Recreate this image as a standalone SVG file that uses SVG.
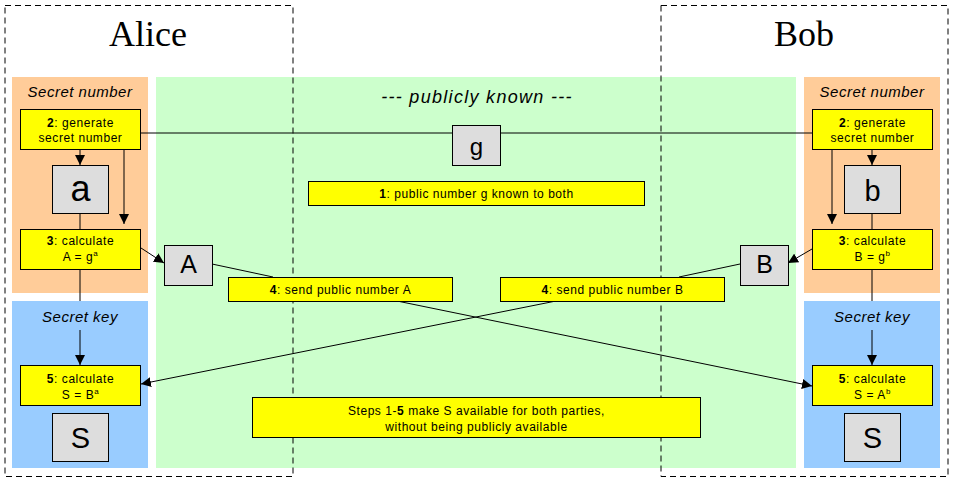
<svg xmlns="http://www.w3.org/2000/svg" width="954" height="483" viewBox="0 0 954 483">
<style>
.bg{stroke:none}
.title{font-family:"Liberation Serif",serif;font-size:36px;fill:#000;text-anchor:middle}
.lbl{font-family:"Liberation Sans",Arial,sans-serif;font-size:15px;font-style:italic;fill:#000;text-anchor:middle;letter-spacing:0.5px}
.step{fill:#FFFF00;stroke:#000;stroke-width:1}
.val{fill:#DDDDDD;stroke:#000;stroke-width:1}
.t{font-family:"Liberation Sans",Arial,sans-serif;font-size:12px;fill:#000;text-anchor:middle;letter-spacing:0.55px}
.big{font-family:"Liberation Sans",Arial,sans-serif;font-size:28px;fill:#000;text-anchor:middle}
.dash{fill:none;stroke:#000;stroke-width:1;stroke-dasharray:6,4}
.ln{fill:none;stroke:#000;stroke-width:1}
.ar{fill:none;stroke:#000;stroke-width:1;marker-end:url(#ah)}
</style>
<defs>
<marker id="ah" viewBox="0 0 10 10" refX="10" refY="5" markerWidth="10" markerHeight="10" markerUnits="userSpaceOnUse" orient="auto">
<path d="M0,0 L10,5 L0,10 Z" fill="#000"/>
</marker>
</defs>
<rect width="954" height="483" fill="#fff"/>
<g id="regions">
<rect class="bg" x="12" y="77" width="136" height="216" fill="#FFCC99"/>
<rect class="bg" x="12" y="301" width="136" height="167" fill="#99CCFF"/>
<rect class="bg" x="156" y="77" width="640" height="391" fill="#CCFFCC"/>
<rect class="bg" x="804" y="77" width="136" height="216" fill="#FFCC99"/>
<rect class="bg" x="804" y="301" width="136" height="167" fill="#99CCFF"/>
</g>
<g id="labels">
<text class="title" x="148" y="46">Alice</text>
<text class="title" x="804" y="46">Bob</text>
<text class="lbl" x="80" y="97">Secret number</text>
<text class="lbl" x="872" y="97">Secret number</text>
<text class="lbl" x="80" y="322">Secret key</text>
<text class="lbl" x="872" y="322">Secret key</text>
<text class="lbl" x="477" y="103" style="font-size:18px;letter-spacing:1.3px">--- publicly known ---</text>
</g>
<g id="connectors">
<line class="ln" x1="141" y1="133" x2="812" y2="133"/>
<line class="ar" x1="80" y1="149" x2="80" y2="165"/>
<line class="ar" x1="124" y1="149" x2="124" y2="224"/>
<line class="ln" x1="80" y1="213" x2="80" y2="229"/>
<line class="ln" x1="80" y1="269" x2="80" y2="301"/>
<line class="ar" x1="80" y1="330" x2="80" y2="365"/>
<line class="ar" x1="141" y1="248" x2="164" y2="263"/>
<line class="ln" x1="212" y1="264" x2="273" y2="277"/>
<line class="ar" x1="872" y1="149" x2="872" y2="165"/>
<line class="ar" x1="832" y1="149" x2="832" y2="224"/>
<line class="ln" x1="872" y1="213" x2="872" y2="229"/>
<line class="ln" x1="872" y1="269" x2="872" y2="301"/>
<line class="ar" x1="872" y1="330" x2="872" y2="365"/>
<line class="ar" x1="812" y1="249" x2="788" y2="263"/>
<line class="ln" x1="740" y1="264" x2="679" y2="277"/>
<line class="ar" x1="397" y1="301" x2="812" y2="386"/>
<line class="ar" x1="556" y1="301" x2="141" y2="384"/>
</g>
<g id="borders">
<rect class="dash" x="5" y="5.5" width="288" height="471"/>
<rect class="dash" x="661" y="5.5" width="287" height="471"/>
</g>
<g id="g">
<rect class="val" x="452.5" y="125.5" width="48" height="40"/>
<text class="big" x="476.5" y="155" style="font-size:24px">g</text>
</g>
<g id="step1">
<rect class="step" x="308.5" y="181.5" width="336" height="24"/>
<text class="t" x="476.5" y="198"><tspan font-weight="bold">1</tspan>: public number g known to both</text>
</g>
<g id="alice-step2">
<rect class="step" x="20.5" y="109.5" width="120" height="40"/>
<text class="t" x="80.5" y="127"><tspan font-weight="bold">2</tspan>: generate</text>
<text class="t" x="80.5" y="142">secret number</text>
</g>
<g id="alice-a">
<rect class="val" x="52.5" y="165.5" width="56" height="48"/>
<text class="big" x="80.5" y="201" style="font-size:36px">a</text>
</g>
<g id="alice-step3">
<rect class="step" x="20.5" y="229.5" width="120" height="40"/>
<text class="t" x="80.5" y="245"><tspan font-weight="bold">3</tspan>: calculate</text>
<text class="t" x="80.5" y="261">A = g<tspan font-size="8" dy="-5">a</tspan></text>
</g>
<g id="alice-A">
<rect class="val" x="164.5" y="245.5" width="48" height="40"/>
<text class="big" x="188.5" y="273" style="font-size:25px">A</text>
</g>
<g id="alice-step4">
<rect class="step" x="228.5" y="277.5" width="224" height="24"/>
<text class="t" x="340.5" y="294"><tspan font-weight="bold">4</tspan>: send public number A</text>
</g>
<g id="alice-step5">
<rect class="step" x="20.5" y="365.5" width="120" height="40"/>
<text class="t" x="80.5" y="383"><tspan font-weight="bold">5</tspan>: calculate</text>
<text class="t" x="80.5" y="399">S = B<tspan font-size="8" dy="-5">a</tspan></text>
</g>
<g id="alice-S">
<rect class="val" x="52.5" y="413.5" width="56" height="48"/>
<text class="big" x="80.5" y="448" style="font-size:29px">S</text>
</g>
<g id="bob-step2">
<rect class="step" x="812.5" y="109.5" width="120" height="40"/>
<text class="t" x="872.5" y="127"><tspan font-weight="bold">2</tspan>: generate</text>
<text class="t" x="872.5" y="142">secret number</text>
</g>
<g id="bob-b">
<rect class="val" x="844.5" y="165.5" width="56" height="48"/>
<text class="big" x="872.5" y="201" style="font-size:29px">b</text>
</g>
<g id="bob-step3">
<rect class="step" x="812.5" y="229.5" width="120" height="40"/>
<text class="t" x="872.5" y="245"><tspan font-weight="bold">3</tspan>: calculate</text>
<text class="t" x="872.5" y="261">B = g<tspan font-size="8" dy="-5">b</tspan></text>
</g>
<g id="bob-B">
<rect class="val" x="740.5" y="245.5" width="48" height="40"/>
<text class="big" x="764.5" y="273" style="font-size:25px">B</text>
</g>
<g id="bob-step4">
<rect class="step" x="500.5" y="277.5" width="224" height="24"/>
<text class="t" x="612.5" y="294"><tspan font-weight="bold">4</tspan>: send public number B</text>
</g>
<g id="bob-step5">
<rect class="step" x="812.5" y="365.5" width="120" height="40"/>
<text class="t" x="872.5" y="383"><tspan font-weight="bold">5</tspan>: calculate</text>
<text class="t" x="872.5" y="399">S = A<tspan font-size="8" dy="-5">b</tspan></text>
</g>
<g id="bob-S">
<rect class="val" x="844.5" y="413.5" width="56" height="48"/>
<text class="big" x="872.5" y="448" style="font-size:29px">S</text>
</g>
<g id="summary">
<rect class="step" x="252.5" y="397.5" width="448" height="40"/>
<text class="t" x="476.5" y="415">Steps 1-<tspan font-weight="bold">5</tspan> make S available for both parties,</text>
<text class="t" x="476.5" y="431">without being publicly available</text>
</g>
</svg>
